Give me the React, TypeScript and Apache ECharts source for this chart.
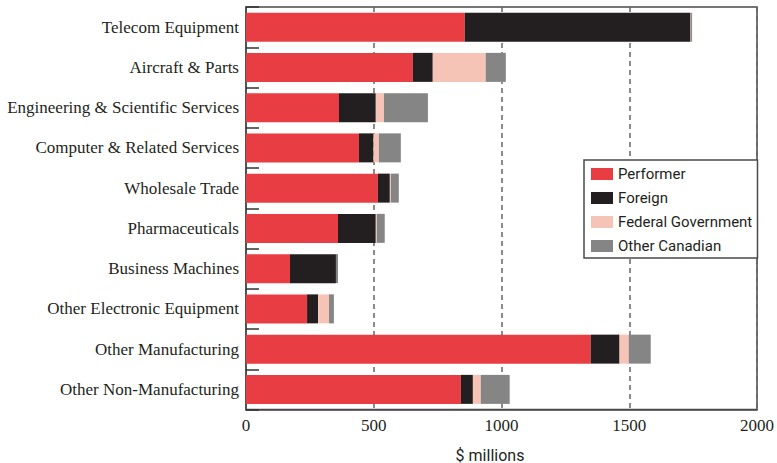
import React, { useEffect, useRef } from "react";
import * as echarts from "echarts";

const categories = [
  "Telecom Equipment",
  "Aircraft & Parts",
  "Engineering & Scientific Services",
  "Computer & Related Services",
  "Wholesale Trade",
  "Pharmaceuticals",
  "Business Machines",
  "Other Electronic Equipment",
  "Other Manufacturing",
  "Other Non-Manufacturing",
];

const performer = [856, 653, 364, 442, 516, 360, 172, 239, 1349, 841];
const foreign = [884, 78, 144, 57, 47, 148, 180, 43, 113, 47];
const federalGovernment = [2, 207, 32, 21, 4, 4, 0, 43, 36, 31];
const otherCanadian = [4, 79, 172, 86, 31, 31, 8, 19, 86, 113];

const xTicks = { min: 0, max: 2000, interval: 500 };

const seriesDefs = [
  { name: "Performer", data: performer, color: "#E83E43" },
  { name: "Foreign", data: foreign, color: "#231F20" },
  { name: "Federal Government", data: federalGovernment, color: "#F6C4B7" },
  { name: "Other Canadian", data: otherCanadian, color: "#858585" },
];

export default function App() {
  const ref = useRef<HTMLDivElement>(null);
  useEffect(() => {
    if (!ref.current) return;
    const chart = echarts.init(ref.current, null, { renderer: "svg" });
    chart.setOption({
      animation: false,
      backgroundColor: "#ffffff",
      grid: {
        left: 246,
        right: 19.5,
        top: 7,
        bottom: 53.5,
        show: true,
        borderColor: "#4a4a4a",
        borderWidth: 1.5,
        backgroundColor: "transparent",
      },
      xAxis: {
        type: "value",
        min: xTicks.min,
        max: xTicks.max,
        interval: xTicks.interval,
        axisLine: { show: true, lineStyle: { color: "#4a4a4a", width: 1.5 } },
        axisTick: { show: false },
        axisLabel: {
          margin: 7,
          fontFamily: "Liberation Serif",
          fontSize: 17,
          color: "#231F20",
          formatter: (v: number) => String(v),
        },
        splitLine: {
          show: true,
          lineStyle: { type: [5, 4], color: "#666666", width: 1.5 },
        },
      },
      yAxis: {
        type: "category",
        data: categories,
        inverse: true,
        axisLine: { show: true, lineStyle: { color: "#4a4a4a", width: 1.5 } },
        axisTick: {
          show: true,
          inside: true,
          length: 13,
          lineStyle: { color: "#333333", width: 1.5 },
        },
        axisLabel: {
          margin: 7,
          fontFamily: "Liberation Serif",
          fontSize: 17,
          color: "#231F20",
        },
        splitLine: { show: false },
      },
      legend: {
        orient: "vertical",
        left: 591,
        top: 166,
        itemWidth: 22,
        itemHeight: 12,
        itemGap: 8,
        padding: 0,
        icon: "rect",
        z: 5,
        textStyle: {
          fontFamily: "Roboto",
          fontSize: 15,
          lineHeight: 16,
          color: "#231F20",
        },
        data: seriesDefs.map((s) => s.name),
      },
      graphic: [
        {
          type: "rect",
          z: 4,
          shape: { x: 584, y: 160, width: 173.5, height: 98 },
          style: { fill: "#ffffff", stroke: "#4a4a4a", lineWidth: 1.5 },
        },
        {
          type: "text",
          z: 5,
          x: 490,
          y: 455,
          style: {
            text: "$ millions",
            fontFamily: "Roboto",
            fontSize: 16,
            fill: "#231F20",
            align: "center",
            verticalAlign: "middle",
          },
        },
      ],
      series: seriesDefs.map((s) => ({
        name: s.name,
        type: "bar",
        stack: "total",
        barWidth: 29,
        data: s.data,
        itemStyle: { color: s.color },
        emphasis: { disabled: true },
      })),
    });
    return () => chart.dispose();
  }, []);
  return (
    <div
      ref={ref}
      style={{ position: "fixed", left: 0, top: 0, width: 777, height: 463 }}
    />
  );
}
